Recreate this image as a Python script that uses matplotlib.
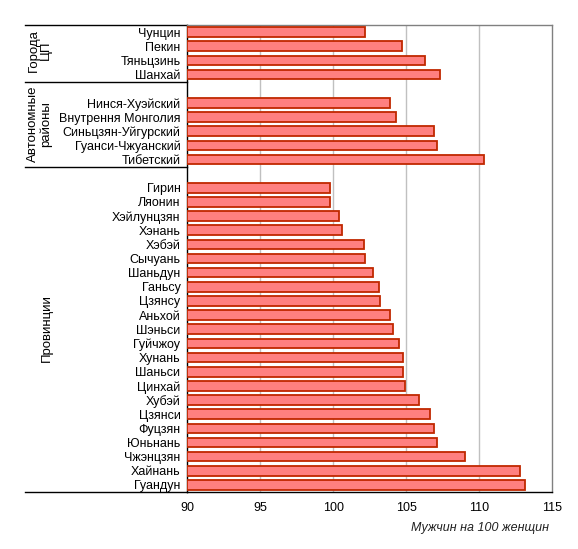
import matplotlib
matplotlib.use('Agg')
import matplotlib.pyplot as plt

plt.rcParams['font.family'] = ['Liberation Sans', 'DejaVu Sans']

# data
cities = ['Чунцин', 'Пекин', 'Тяньцзинь', 'Шанхай']
city_vals = [102.2, 104.7, 106.3, 107.3]

autonomous = ['Нинся-Хуэйский', 'Внутрення Монголия', 'Синьцзян-Уйгурский',
              'Гуанси-Чжуанский', 'Тибетский']
autonomous_vals = [103.9, 104.3, 106.9, 107.1, 110.3]

provinces = ['Гирин', 'Ляонин', 'Хэйлунцзян', 'Хэнань', 'Хэбэй', 'Сычуань',
             'Шаньдун', 'Ганьсу', 'Цзянсу', 'Аньхой', 'Шэньси', 'Гуйчжоу',
             'Хунань', 'Шаньси', 'Цинхай', 'Хубэй', 'Цзянси', 'Фуцзян',
             'Юньнань', 'Чжэнцзян', 'Хайнань', 'Гуандун']
province_vals = [99.75, 99.75, 100.4, 100.6, 102.1, 102.2, 102.7, 103.1,
                 103.2, 103.9, 104.1, 104.5, 104.8, 104.8, 104.9, 105.85,
                 106.6, 106.9, 107.1, 109.0, 112.8, 113.1]

groups = [('Города\nЦП', cities, city_vals),
          ('Автономные\nрайоны', autonomous, autonomous_vals),
          ('Провинции', provinces, province_vals)]

xticks = [90, 95, 100, 105, 110, 115]
xlabel = 'Мужчин на 100 женщин'

# build row positions, one empty row between groups
labels, vals, pos = [], [], []
bounds = []
row = 0
for gi, (gname, names, values) in enumerate(groups):
    start = row
    for n, v in zip(names, values):
        labels.append(n)
        vals.append(v)
        pos.append(row)
        row += 1
    bounds.append((start - 0.5, row - 0.5))
    if gi < len(groups) - 1:
        row += 1
nrows = row

fig = plt.figure(figsize=(5.78, 5.49), dpi=100)
ax = fig.add_axes([0.3241, 0.1038, 0.6315, 0.8506])

base = 90
ax.barh(pos, [v - base for v in vals], left=base, height=0.68,
        color='#ff8080', edgecolor='#c02800', linewidth=1.3, zorder=3)

ax.set_xlim(90, 115)
ax.set_ylim(nrows - 0.5, -0.5)
ax.set_xticks(xticks)
ax.set_xticklabels([str(t) for t in xticks], fontsize=9)
ax.set_yticks(pos)
ax.set_yticklabels(labels, fontsize=9)
ax.tick_params(axis='both', length=0)
ax.tick_params(axis='x', pad=7)
ax.tick_params(axis='y', pad=5)

for t in xticks[1:-1]:
    ax.axvline(t, color='#c0c0c0', linewidth=1, zorder=1)

ax.spines['left'].set_color('black')
ax.spines['bottom'].set_color('black')
ax.spines['top'].set_color('#808080')
ax.spines['right'].set_color('#808080')
for s in ax.spines.values():
    s.set_linewidth(1)

# group separators on the left side
tr = ax.get_yaxis_transform()
xl = -0.445
ax.plot([xl, 0], [-0.5, -0.5], transform=tr, color='black', lw=1, clip_on=False)
for (top, bot) in bounds:
    ax.plot([xl, 0], [bot, bot], transform=tr, color='black', lw=1, clip_on=False)

gx = [-0.405, -0.405, -0.385]
gshift = [-0.2, -0.5, -0.6]
for (gname, _, _), (top, bot), x, dy in zip(groups, bounds, gx, gshift):
    ax.text(x, (top + bot) / 2 + dy, gname, transform=tr, rotation=90,
            ha='center', va='center', fontsize=9.5, linespacing=1.0)

fig.text(0.83, 0.038, xlabel, ha='center', va='center', fontsize=9,
         style='italic', color='#202020')

fig.savefig('out.png', dpi=100)
